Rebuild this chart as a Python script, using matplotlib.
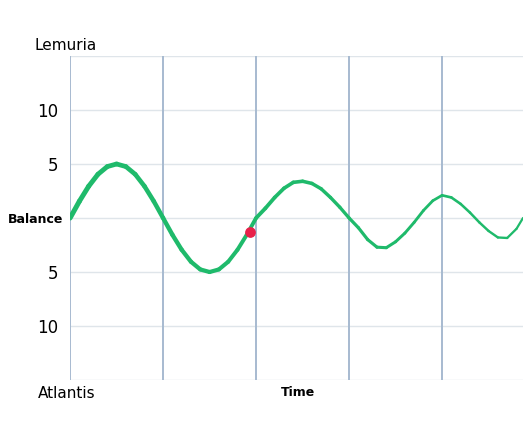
import matplotlib
matplotlib.use("Agg")
import matplotlib.pyplot as plt
import numpy as np
from matplotlib.collections import LineCollection

# values (time in grid units, balance in y units)
t = [0.0, 0.1, 0.2, 0.3, 0.4, 0.5, 0.6, 0.7, 0.8, 0.9, 1.0,
     1.1, 1.2, 1.3, 1.4, 1.5, 1.6, 1.7, 1.8, 1.9, 2.0,
     2.1, 2.2, 2.3, 2.4, 2.5, 2.6, 2.7, 2.8, 2.9, 3.0,
     3.1, 3.2, 3.3, 3.4, 3.5, 3.6, 3.7, 3.8, 3.9, 4.0,
     4.1, 4.2, 4.3, 4.4, 4.5, 4.6, 4.7, 4.8, 4.87]
balance = [0.0, 1.55, 2.94, 4.05, 4.76, 5.0, 4.76, 4.05, 2.94, 1.55, 0.0,
           -1.55, -2.94, -4.05, -4.76, -5.0, -4.76, -4.05, -2.94, -1.55, 0.0,
           0.9, 1.9, 2.75, 3.3, 3.4, 3.2, 2.7, 1.9, 1.0, 0.0,
           -0.9, -2.0, -2.7, -2.75, -2.2, -1.4, -0.4, 0.7, 1.6, 2.1,
           1.9, 1.3, 0.5, -0.4, -1.2, -1.8, -1.85, -1.0, 0.0]
marker_t, marker_v = 1.93, -1.3
ytick_vals = [10, 5, 0, -5, -10]
ytick_labels = ["10", "5", "Balance", "5", "10"]
vlines = [0, 1, 2, 3, 4]

fig = plt.figure(figsize=(5.23, 4.44), dpi=100)
ax = fig.add_axes([0.134, 0.144, 0.866, 0.730])
ax.set_xlim(0, 4.87)
ax.set_ylim(-15, 15)

for y in [15, 10, 5, 0, -5, -10, -15]:
    ax.axhline(y, color="#dfe5ea", linewidth=1.0, zorder=1)
for x in vlines:
    ax.axvline(x, color="#a7bad0", linewidth=1.4, zorder=2)

# tapered green line
pts = np.column_stack([t, balance])
segs = np.stack([pts[:-1], pts[1:]], axis=1)
widths = np.linspace(3.6, 1.6, len(segs))
ax.add_collection(LineCollection(segs, linewidths=widths, colors="#1fba6b",
                                 capstyle="round", joinstyle="round", zorder=3))
ax.scatter([marker_t], [marker_v], s=45, color="#e8214a", zorder=4)

for s in ax.spines.values():
    s.set_visible(False)
ax.set_xticks([])
ax.set_yticks(ytick_vals)
ax.set_yticklabels(ytick_labels)
ax.tick_params(axis="y", length=0, pad=5)
for lbl in ax.get_yticklabels():
    if lbl.get_text() == "Balance":
        lbl.set_fontsize(9)
        lbl.set_fontweight("bold")
    else:
        lbl.set_fontsize(12)
        lbl.set_x(-0.01)

fig.text(35 / 523, 1 - 45 / 444, "Lemuria", fontsize=11, va="center", ha="left")
fig.text(38 / 523, 1 - 393 / 444, "Atlantis", fontsize=11, va="center", ha="left")
fig.text(298 / 523, 1 - 392 / 444, "Time", fontsize=9, fontweight="bold", va="center", ha="center")

fig.savefig("out.png", dpi=100)
